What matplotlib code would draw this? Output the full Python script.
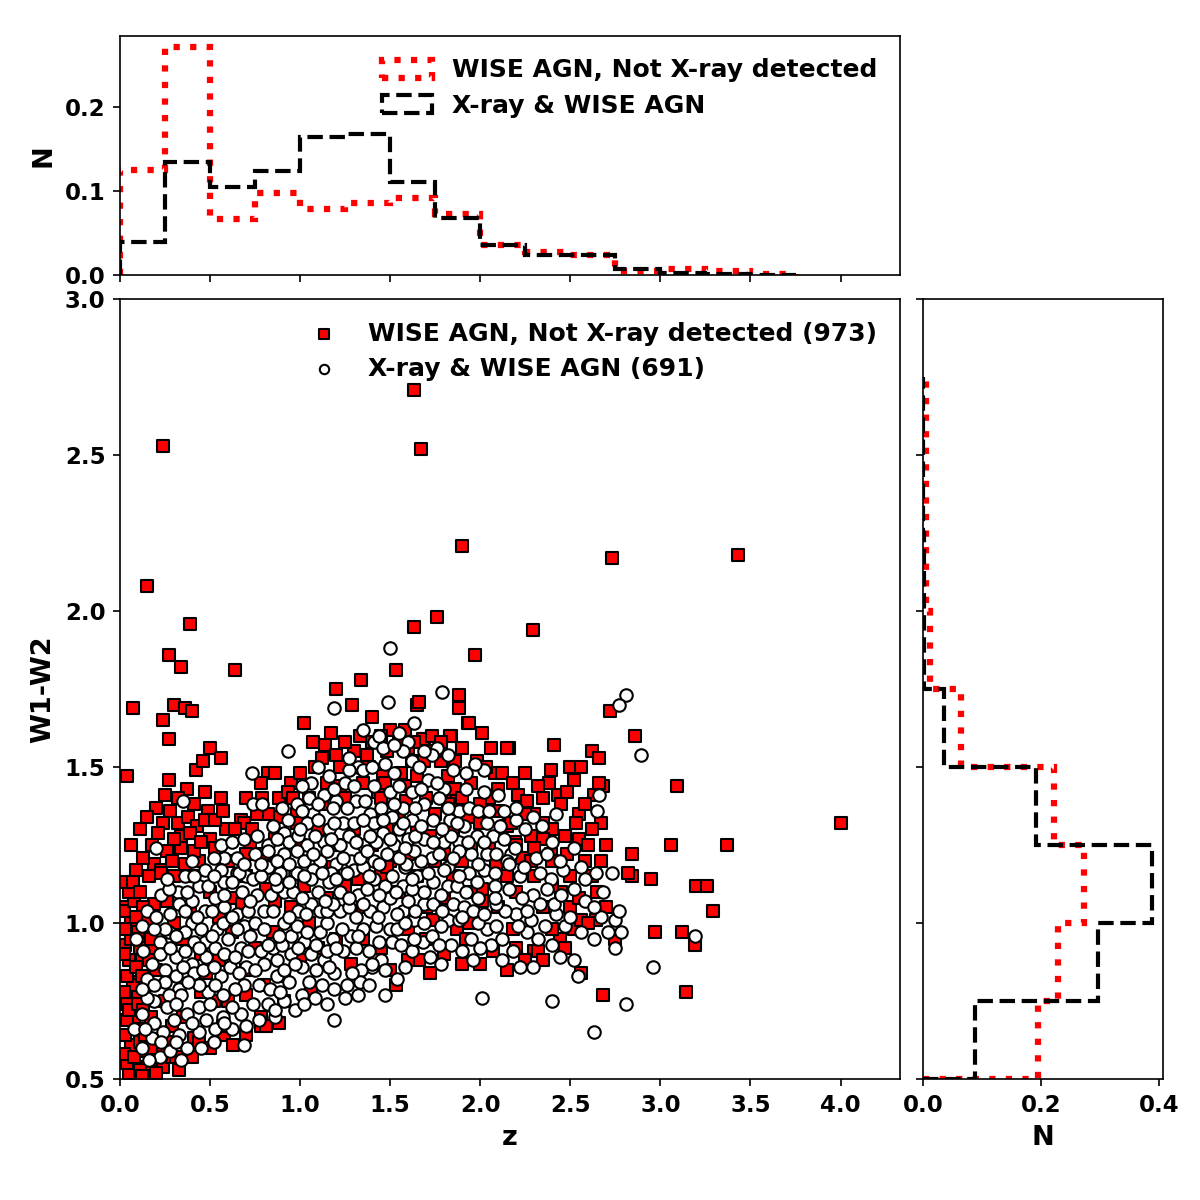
import numpy as np
import matplotlib
matplotlib.use("Agg")
import matplotlib.pyplot as plt

plt.rcParams['font.family'] = ['DejaVu Sans']
plt.rcParams['font.weight'] = 'bold'
plt.rcParams['axes.labelweight'] = 'bold'

# ---------------- data ----------------
# WISE AGN, not X-ray detected (red squares): (z, W1-W2)
red_pts = [
    (1.63,2.71),(0.24,2.53),(1.67,2.52),(1.90,2.21),(2.73,2.17),(3.43,2.18),(0.15,2.08),(1.63,1.95),
    (1.76,1.98),(2.29,1.94),(0.39,1.96),(0.27,1.86),(0.34,1.82),(0.64,1.81),(1.97,1.86),(1.53,1.81),
    (1.34,1.78),(1.20,1.75),(1.65,1.70),(0.07,1.69),(0.30,1.70),(0.36,1.69),(0.40,1.68),(0.24,1.65),
    (0.27,1.59),(1.88,1.73),(1.88,1.69),(2.72,1.68),(2.86,1.60),(2.41,1.57),(2.62,1.55),(2.16,1.56),
    (1.93,1.64),(2.01,1.61),(4.00,1.32),(3.09,1.44),(3.37,1.25),(3.06,1.25),(3.20,1.12),(3.26,1.12),
    (3.29,1.04),(2.97,0.97),(3.12,0.97),(3.19,0.93),(3.14,0.78),(2.84,1.22),(2.95,1.14),(2.84,1.15),
    (2.68,1.44),(2.66,1.53),(0.04,1.47),(0.01,1.05),(2.68,0.77),(2.30,0.91),
    (0.27,1.46),(0.42,1.49),(0.46,1.52),(0.50,1.56),(0.56,1.53),(1.02,1.64),(1.17,1.61),(1.29,1.70),
    (1.07,1.58),(1.14,1.57),(1.20,1.54),(1.22,1.50),(0.82,1.48),(0.86,1.48),(0.78,1.45),(0.37,1.43),
    (0.47,1.42),(0.56,1.40),(0.20,1.37),(0.28,1.36),(0.49,1.36),(0.24,1.32),(0.32,1.32),(0.38,1.34),
    (0.43,1.31),(0.34,1.28),(0.34,1.24),(0.50,1.27),(0.59,1.30),(0.67,1.33),(0.69,1.32),(0.82,1.35),
    (0.89,1.34),(0.98,1.35),(0.98,1.32),(0.44,1.20),(0.19,1.19),(0.23,1.17),(0.09,1.17),(0.16,1.15),
    (1.40,1.66),(1.66,1.71),(1.94,1.64),(1.84,1.60),(1.69,1.59),(2.06,1.56),(2.15,1.56),(2.39,1.49),
    (2.50,1.50),(2.56,1.50),(2.52,1.46),(2.38,1.45),(2.43,1.41),(2.66,1.45),(2.63,1.41),(2.67,1.32),
    (2.08,1.48),(2.10,1.43),(2.21,1.41),(2.26,1.39),(2.16,1.32),(2.28,1.28),(2.55,1.27),(2.70,1.25),
    (2.39,1.22),(2.40,1.20),(2.67,1.20),(2.82,1.16),(2.23,1.21),(2.19,1.26),(1.82,1.42),(1.85,1.42),
    (1.68,1.59),(1.73,1.60),(1.83,1.60),(1.48,1.55),(1.62,1.52),(1.69,1.52),(1.78,1.52),(1.86,1.52),
    (1.46,1.47),(1.56,1.48),(1.65,1.47),(1.82,1.47),(1.86,1.43),(1.43,1.42),(1.59,1.39),(1.87,1.39),
    (1.93,1.34),(1.43,1.34),(1.48,1.30),(1.50,1.20),(2.00,1.32),(2.15,1.31),(2.09,1.19),(2.17,1.32),
    (1.66,0.88),(1.53,0.80),(2.07,0.91),(2.32,0.91),(2.44,0.95),(2.52,0.98),(2.56,1.01),(2.64,1.01),
    (2.56,0.84),(2.18,0.98),(1.94,1.00),(1.87,0.98),(1.92,0.95),(1.74,1.01),(2.01,1.11),(2.01,1.07),
    (2.75,0.95),
    (0.23,1.16),(0.30,1.15),(0.02,1.04),(0.15,1.01),(0.19,1.06),(0.26,1.07),(0.19,0.91),(0.14,0.95),
    (0.07,0.81),(0.10,0.78),(0.07,0.69),(0.13,0.66),(0.09,0.60),(0.09,0.54),(0.15,0.54),(0.19,0.56),
    (0.24,0.54),(0.05,0.52),(0.29,0.57),(0.29,0.67),(0.41,0.63),(0.58,0.64),(0.78,0.67),(0.91,0.75),
    (1.06,0.78),(1.28,0.87),(0.81,1.11),(0.63,1.08),(0.39,1.05),(0.48,0.84),(0.52,0.75),(0.70,0.77),
    (0.91,0.83),
    (0.04,0.55),(0.11,0.53),(0.15,0.51),(0.06,0.61),(0.12,0.59),(0.18,0.57),(0.23,0.58),(0.08,0.70),
    (0.04,0.69),(0.14,0.80),(0.07,0.80),(0.31,0.57),(0.27,0.62),(0.44,0.62),(0.57,0.67),(0.78,0.70),
    (0.81,0.67),(0.03,0.93),(0.05,0.88),(0.06,1.00),(0.08,1.07),(0.10,0.97),(0.12,0.88),(0.04,0.74),
    (0.35,0.95),(0.45,0.90),(0.55,0.88),(0.62,0.97),(0.75,0.92),(0.85,0.97),(0.95,1.05),(1.05,1.00),
    (1.15,1.08),(1.25,1.12),(1.35,1.05),(1.45,1.15),(1.55,1.10),(1.65,1.15),(1.75,1.20),(1.85,1.15),
    (1.95,1.10),(1.40,1.25),(1.30,1.30),(1.20,1.25),(1.10,1.30),(1.00,1.25),(0.90,1.20),(0.80,1.22),
    (0.70,1.15),(0.60,1.20),(0.50,1.10),(0.40,1.15),(0.30,1.00),(0.20,0.85),(0.25,0.75),(0.35,0.70),
    (0.45,0.78),(0.60,0.75),(0.70,0.85),(0.80,0.80),(1.00,0.88),(1.10,0.92),(1.20,0.95),(1.35,0.95),
    (1.45,0.92),(1.60,0.98),(1.70,1.05),(1.80,1.08),(1.90,1.20),(2.05,1.25),(2.10,1.05),(2.20,1.10),
    (2.30,1.15),(2.35,1.05),(2.45,1.10),(2.50,1.15),(1.25,1.40),(1.35,1.45),(1.45,1.40),(1.55,1.35),
    (1.65,1.30),(1.75,1.35),(1.85,1.30),(1.15,1.45),(1.05,1.40),(0.95,1.45),(1.30,1.55),(1.40,1.58),
    (1.50,1.62),(1.60,1.56),(1.75,1.55),(1.95,1.45),(2.05,1.40),(2.25,1.48),(2.30,1.35),(2.40,1.30),
    (2.45,1.38),(2.55,1.35),(2.60,1.25),(2.65,1.10),(2.50,1.05),(2.40,0.98),(2.20,0.92),(1.80,0.90),
    (1.70,0.95),(1.50,0.85),(1.60,0.88),
    (0.02,0.58),(0.03,0.64),(0.05,0.72),(0.02,0.78),(0.04,0.83),(0.02,0.90),(0.06,0.95),(0.03,0.98),
    (0.05,1.10),(0.02,1.13),(0.07,1.13),(0.11,1.10),(0.13,1.05),(0.09,1.02),(0.11,0.92),(0.09,0.86),
    (0.12,0.83),(0.10,0.74),(0.13,0.72),(0.11,0.62),(0.14,0.64),(0.08,0.57),(0.17,0.60),(0.12,0.51),
    (0.20,0.52),(0.17,0.70),(0.16,0.88),(0.17,0.95),(0.13,1.21),(0.06,1.25),(0.11,1.30),(0.18,1.25),
    (0.15,1.34),(0.21,1.29),(0.26,1.23),(0.30,1.27),(0.29,1.20),(0.36,1.19),(0.41,1.23),(0.39,1.29),
    (0.45,1.26),(0.47,1.33),(0.53,1.33),(0.53,1.24),(0.57,1.36),(0.64,1.30),(0.70,1.40),(0.73,1.30),
    (0.76,1.35),(0.79,1.40),(0.72,1.25),(0.32,1.40),(0.41,1.38),(0.25,1.41),
    (0.88,1.40),(0.93,1.42),(1.00,1.48),(1.08,1.50),(1.12,1.53),(1.25,1.58),(1.33,1.60),(1.37,1.54),
    (1.45,1.60),(1.55,1.58),(1.58,1.62),(1.63,1.58),(1.78,1.58),(1.90,1.56),(1.98,1.52),(2.03,1.50),
    (2.12,1.48),(2.18,1.45),(2.32,1.44),(2.35,1.40),(2.48,1.42),(2.58,1.38),(2.62,1.30),(2.53,1.32),
    (2.47,1.28),(2.35,1.27),(2.30,1.24),(2.48,1.22),(2.58,1.20),(2.62,1.15),(2.70,1.05),(2.60,1.00),
    (2.47,0.92),(2.35,0.88),(2.25,0.88),(2.15,0.85),(2.00,0.87),(1.90,0.87),(1.72,0.84),
    (0.88,0.68),(0.70,0.64),(0.63,0.61),(0.50,0.60),(0.40,0.57),(0.33,0.53),
    (0.55,1.02),(0.68,1.06),(0.86,1.07),(1.02,1.12),(1.18,1.18),(1.32,1.14),(1.48,1.18),(1.60,1.22),
    (1.72,1.28),(1.82,1.38),(1.70,1.40),(1.58,1.44),(1.47,1.45),(1.38,1.50),(1.22,1.44),(1.12,1.38),
    (0.96,1.40),(0.86,1.27),(0.70,1.22),(1.90,1.40),(2.00,1.38),(2.10,1.36),(2.25,1.35),(2.35,1.32),
    (2.20,1.25),(2.28,1.20),(2.15,1.15),(2.40,1.12),(2.55,1.08),(1.95,1.25),(1.80,1.22),
]

# X-ray & WISE AGN (white circles): (z, W1-W2)
white_pts = [
    (1.50,1.88),(1.79,1.74),(2.81,1.73),(2.77,1.70),(2.89,1.54),(1.49,1.71),(1.19,1.69),(0.93,1.55),
    (0.73,1.48),(0.35,1.39),(0.74,1.38),(0.79,1.38),(0.20,1.24),(0.56,1.25),(0.76,1.28),(0.82,1.25),
    (0.91,1.29),(0.94,1.26),(1.06,1.45),(1.16,1.47),(1.25,1.45),(1.35,1.62),(1.41,1.58),(1.32,1.50),
    (1.35,1.49),(1.05,1.40),(1.13,1.41),(1.20,1.39),(1.31,1.39),(1.39,1.35),(0.98,1.38),(1.07,1.35),
    (1.18,1.37),(1.04,1.32),(1.16,1.30),(1.24,1.32),(1.30,1.32),(1.04,1.25),(1.13,1.26),(1.22,1.25),
    (1.35,1.25),(0.65,1.21),(0.75,1.22),(0.82,1.23),(0.91,1.22),(0.98,1.23),(1.02,1.20),(1.11,1.20),
    (1.20,1.19),(1.28,1.20),(1.41,1.20),(0.36,1.15),(0.47,1.17),(0.58,1.21),(0.56,1.17),(0.65,1.16),
    (0.70,1.15),(0.82,1.18),(0.89,1.16),(0.97,1.16),(1.07,1.17),(1.17,1.16),(1.30,1.17),
    (1.63,1.64),(1.55,1.61),(1.60,1.58),(1.46,1.56),(1.76,1.56),(1.82,1.54),(2.02,1.49),(1.92,1.48),
    (2.10,1.41),(2.13,1.36),(2.42,1.35),(2.66,1.41),(2.65,1.36),(2.25,1.30),(2.34,1.31),(2.52,1.24),
    (2.31,1.21),(2.17,1.22),
    (1.57,1.55),(1.62,1.52),(1.73,1.54),(1.47,1.51),(1.71,1.46),(1.50,1.42),(1.62,1.42),(1.80,1.43),
    (1.69,1.38),(1.77,1.40),(1.88,1.36),(1.94,1.37),(1.99,1.36),(1.45,1.37),(1.57,1.37),(1.51,1.34),
    (1.62,1.33),(1.74,1.33),(1.83,1.33),(1.91,1.31),(1.98,1.28),(2.07,1.28),(1.41,1.32),(1.46,1.29),
    (1.55,1.30),(1.69,1.27),(1.80,1.26),(1.88,1.26),(1.95,1.22),(2.04,1.22),(1.42,1.26),(1.52,1.25),
    (1.60,1.27),(1.73,1.21),(1.82,1.18),(1.88,1.23),(1.44,1.19),(1.58,1.18),(1.67,1.20),(2.02,1.17),
    (2.15,1.20),
    (1.47,0.77),(2.01,0.76),(2.40,0.75),(2.81,0.74),(2.63,0.65),(2.54,0.83),(2.52,0.88),(2.44,0.89),
    (2.29,0.86),(2.12,0.88),(2.04,0.98),(2.26,0.97),(2.32,0.95),(2.36,0.99),(2.63,0.95),(2.75,0.92),
    (2.71,0.97),(2.78,0.97),(2.75,1.01),(2.77,1.04),(2.67,1.02),(2.58,1.07),(2.42,1.03),(2.41,1.06),
    (2.20,1.03),(2.14,1.04),(2.29,1.09),(2.39,1.14),(2.46,1.17),(2.56,1.18),(2.64,1.16),(2.73,1.16),
    (2.16,1.11),(2.08,1.12),(2.37,1.11),(1.68,0.94),(1.73,0.96),(1.82,1.01),(1.69,1.06),(1.57,1.04),
    (1.51,0.94),(1.44,0.94),(1.45,0.88),(1.40,0.86),(1.50,0.98),(1.63,1.01),(1.54,0.98),(1.85,1.06),
    (1.91,1.05),(1.96,1.04),(1.82,1.12),(1.87,1.12),(1.74,1.13),(1.65,1.15),(1.57,1.12),(1.47,1.12),
    (1.46,1.05),(1.80,1.17),(1.94,1.16),(2.16,1.19),(1.59,1.19),(1.69,1.10),(1.50,1.08),(1.60,1.07),
    (1.74,1.06),(3.19,0.96),(2.96,0.86),
    (0.58,1.13),(0.66,1.16),(0.74,1.14),(0.82,1.18),(0.91,1.10),(0.98,1.16),(1.06,1.14),(1.16,1.13),
    (1.22,1.10),(1.32,1.09),(1.35,1.18),(1.41,1.14),(0.32,1.10),(0.33,1.06),(0.40,1.07),(0.44,1.12),
    (0.53,1.08),(0.65,1.03),(0.69,0.99),(0.76,1.09),(0.80,1.04),(0.75,1.00),(0.85,1.04),(0.91,1.00),
    (0.99,1.04),(1.06,1.06),(1.11,1.04),(1.22,1.04),(1.31,1.02),(1.39,1.04),(1.35,0.98),(1.28,0.96),
    (1.18,0.95),(1.11,0.97),(1.02,0.94),(0.95,0.96),(0.85,0.92),(0.78,0.91),(0.72,0.96),(0.67,0.92),
    (0.60,0.95),(0.54,0.98),(0.47,1.04),(0.40,1.00),(0.36,0.97),(0.27,0.97),(0.22,0.94),(0.09,0.95),
    (0.15,1.04),(0.25,0.98),(0.47,0.94),(0.41,0.94),(0.48,0.89),(0.40,0.87),(0.31,0.89),(0.22,0.90),
    (0.18,0.87),(0.15,0.82),(0.25,0.85),(0.31,0.83),(0.41,0.84),(0.46,0.85),(0.56,0.83),(0.61,0.86),
    (0.70,0.86),(0.80,0.87),(0.87,0.88),(0.95,0.90),(1.06,0.90),(1.13,0.88),(1.19,0.84),(1.26,0.80),
    (1.34,0.85),(1.40,0.87),(1.24,0.91),(1.09,0.85),(1.01,0.86),(0.94,0.81),(0.87,0.83),(0.77,0.80),
    (0.69,0.80),(0.64,0.79),(0.57,0.77),(0.49,0.78),(0.44,0.80),(0.33,0.79),(0.25,0.81),(0.19,0.80),
    (0.12,0.71),(0.19,0.75),(0.27,0.77),(0.34,0.77),(0.44,0.73),(0.50,0.74),(0.57,0.70),(0.67,0.71),
    (0.74,0.74),(0.82,0.74),(0.91,0.75),(1.01,0.77),(1.08,0.76),(1.15,0.74),(1.19,0.69),(0.97,0.72),
    (0.30,0.69),(0.37,0.71),(0.18,0.63),(0.24,0.65),(0.33,0.64),(0.44,0.65),(0.37,0.60),(0.23,0.62),
    (0.22,0.57),(0.34,0.56),(0.53,0.66),(0.62,0.66),(0.69,0.61),(0.19,0.68),(0.12,0.60),(0.08,0.66),
    (0.16,0.56),
    (0.28,0.59),(0.45,0.60),(0.52,0.62),(0.31,0.62),
    (0.40,0.68),(0.48,0.69),(0.70,0.67),(0.77,0.69),(0.86,0.70),(0.58,0.68),(0.14,0.66),
    (0.26,0.73),(0.31,0.74),(0.62,0.73),(0.86,0.72),(1.02,0.74),(1.25,0.76),(1.32,0.77),(0.15,0.76),
    (0.38,0.81),(0.53,0.80),(0.83,0.79),(0.89,0.78),(1.05,0.81),(1.12,0.80),(1.19,0.79),(1.33,0.81),
    (1.38,0.80),(1.54,0.82),(0.12,0.79),
    (0.35,0.86),(0.52,0.86),(0.66,0.84),(0.75,0.85),(0.91,0.85),(0.97,0.87),(1.16,0.86),(1.29,0.84),
    (1.47,0.85),(1.58,0.86),(1.62,0.91),(1.72,0.89),(1.78,0.87),(1.84,0.93),(1.90,0.91),(1.96,0.88),
    (2.06,0.93),(2.18,0.91),(2.22,0.86),
    (0.13,0.91),(0.28,0.92),(0.36,0.91),(0.44,0.92),(0.53,0.92),(0.58,0.90),(0.64,0.89),(0.71,0.91),
    (0.82,0.93),(0.90,0.93),(0.99,0.92),(1.09,0.93),(1.15,0.91),(1.20,0.92),(1.31,0.92),(1.38,0.91),
    (1.56,0.93),(1.63,0.95),(1.77,0.93),(1.95,0.95),(2.00,0.92),(2.12,0.95),(2.40,0.93),
    (0.12,0.99),(0.19,0.98),(0.31,0.96),(0.45,0.98),(0.51,0.96),(0.57,1.00),(0.65,0.98),(0.80,0.98),
    (0.88,0.96),(0.98,0.99),(1.04,0.97),(1.15,1.00),(1.23,0.98),(1.32,0.96),(1.42,0.99),(1.58,1.00),
    (1.69,1.00),(1.78,0.99),(1.88,1.01),(1.99,1.00),(2.09,0.99),(2.21,0.99),(2.28,1.01),(2.47,0.99),
    (2.56,0.97),
    (0.20,1.02),(0.28,1.03),(0.36,1.04),(0.43,1.02),(0.51,1.04),(0.58,1.05),(0.62,1.02),(0.71,1.04),
    (0.94,1.02),(1.03,1.03),(1.15,1.04),(1.18,1.06),(1.27,1.05),(1.35,1.06),(1.43,1.02),(1.54,1.03),
    (1.64,1.04),(1.79,1.04),(1.90,1.02),(2.02,1.03),(2.09,1.06),(2.26,1.04),(2.33,1.06),(2.50,1.02),
    (2.63,1.05),
    (0.23,1.09),(0.27,1.11),(0.37,1.10),(0.49,1.12),(0.58,1.09),(0.68,1.10),(0.72,1.07),(0.84,1.09),
    (0.87,1.12),(0.96,1.10),(1.01,1.08),(1.10,1.10),(1.14,1.07),(1.27,1.08),(1.37,1.11),(1.44,1.09),
    (1.53,1.10),(1.62,1.11),(1.78,1.09),(1.92,1.10),(1.99,1.08),(2.23,1.08),(2.45,1.09),(2.52,1.11),
    (2.68,1.10),(2.08,1.08),
    (0.26,1.14),(0.41,1.15),(0.52,1.15),(0.62,1.13),(0.78,1.15),(0.86,1.14),(0.94,1.13),(1.02,1.15),
    (1.12,1.16),(1.20,1.14),(1.26,1.16),(1.38,1.15),(1.51,1.15),(1.62,1.14),(1.71,1.16),(1.88,1.15),
    (1.98,1.13),(2.08,1.16),(2.22,1.15),(2.33,1.16),(2.58,1.14),
    (0.40,1.20),(0.52,1.21),(0.69,1.19),(0.78,1.19),(0.87,1.20),(0.94,1.19),(1.07,1.22),(1.15,1.23),
    (1.24,1.21),(1.33,1.21),(1.37,1.23),(1.48,1.22),(1.55,1.21),(1.63,1.23),(1.77,1.22),(1.85,1.21),
    (1.99,1.19),(2.09,1.22),(2.24,1.18),(2.37,1.22),(2.44,1.20),
    (0.62,1.26),(0.69,1.27),(0.87,1.27),(0.99,1.28),(1.08,1.28),(1.17,1.27),(1.27,1.28),(1.31,1.26),
    (1.39,1.28),(1.50,1.27),(1.58,1.24),(1.64,1.28),(1.74,1.26),(1.84,1.28),(1.93,1.26),(2.02,1.26),
    (2.13,1.27),(2.19,1.24),(2.40,1.26),
    (0.85,1.31),(0.93,1.33),(1.00,1.30),(1.10,1.33),(1.19,1.32),(1.35,1.33),(1.46,1.33),(1.57,1.32),
    (1.67,1.31),(1.79,1.30),(1.87,1.32),(2.04,1.32),(2.11,1.31),(2.20,1.33),(2.29,1.34),
    (0.90,1.37),(1.01,1.36),(1.10,1.38),(1.26,1.37),(1.36,1.39),(1.52,1.38),(1.64,1.37),(1.82,1.37),
    (2.05,1.36),(2.20,1.37),
    (1.01,1.44),(1.19,1.43),(1.30,1.44),(1.41,1.44),(1.55,1.44),(1.67,1.43),(1.76,1.45),(1.92,1.43),
    (2.02,1.42),
    (1.10,1.50),(1.27,1.49),(1.40,1.50),(1.52,1.48),(1.66,1.50),(1.85,1.49),(1.97,1.51),
    (1.44,1.60),(1.52,1.57),(1.69,1.55),(1.27,1.53),
]

red_z = [p[0] for p in red_pts]
red_w = [p[1] for p in red_pts]
white_z = [p[0] for p in white_pts]
white_w = [p[1] for p in white_pts]

red_label = 'WISE AGN, Not X-ray detected (973)'
white_label = 'X-ray & WISE AGN (691)'
red_hist_label = 'WISE AGN, Not X-ray detected'
white_hist_label = 'X-ray & WISE AGN'

# normalised histograms (fraction per bin)
z_edges = [0.0, 0.25, 0.5, 0.75, 1.0, 1.25, 1.5, 1.75, 2.0, 2.25, 2.5, 2.75, 3.0, 3.25, 3.5, 3.75]
red_z_frac = [0.125, 0.271, 0.067, 0.097, 0.078, 0.086, 0.092, 0.073, 0.036, 0.027, 0.023, 0.005, 0.007, 0.004, 0.001]
black_z_frac = [0.039, 0.134, 0.105, 0.124, 0.164, 0.168, 0.110, 0.068, 0.036, 0.024, 0.023, 0.007, 0.002, 0.0005, 0.0]

w_edges = [0.5, 0.75, 1.0, 1.25, 1.5, 1.75, 2.0, 2.25, 2.5, 2.75]
red_w_frac = [0.194, 0.228, 0.272, 0.222, 0.064, 0.011, 0.0045, 0.0056, 0.0056]
black_w_frac = [0.088, 0.296, 0.387, 0.192, 0.0355, 0.002, 0.001, 0.0, 0.0]

# ---------------- figure ----------------
fig = plt.figure(figsize=(8, 8), dpi=150)
ax = fig.add_axes([0.1, 0.1008, 0.65, 0.65])
axt = fig.add_axes([0.1, 0.771, 0.65, 0.199], sharex=ax)
axr = fig.add_axes([0.7692, 0.1008, 0.2, 0.65], sharey=ax)

ax.scatter(red_z, red_w, marker='s', s=38, c='red', edgecolors='black', linewidths=1.0,
           label=red_label, zorder=2)
ax.scatter(white_z, white_w, marker='o', s=36, c='white', edgecolors='black', linewidths=1.0,
           label=white_label, zorder=3)
ax.set_xticks(np.arange(0, 4.01, 0.5))
ax.set_yticks(np.arange(0.5, 3.01, 0.5))
ax.set_xlabel('z', fontsize=13)
ax.set_ylabel('W1-W2', fontsize=13)
ax.tick_params(labelsize=11)
ax.legend(loc='upper right', frameon=False, fontsize=12, markerscale=0.75, labelspacing=0.45)

def centers(e):
    return [(a + b) / 2 for a, b in zip(e[:-1], e[1:])]

zc = centers(z_edges)
axt.hist(zc, bins=z_edges, weights=red_z_frac, histtype='step', color='red', ls=':', lw=3,
         label=red_hist_label)
axt.hist(zc, bins=z_edges, weights=black_z_frac, histtype='step', color='black', ls='--', lw=2,
         label=white_hist_label)
axt.set_ylabel('N', fontsize=13)
axt.set_yticks([0.0, 0.1, 0.2])
axt.tick_params(labelsize=11, labelbottom=False)
axt.legend(loc='upper right', frameon=False, fontsize=12, labelspacing=0.45)

wc = centers(w_edges)
axr.hist(wc, bins=w_edges, weights=red_w_frac, histtype='step', color='red', ls=':', lw=3,
         orientation='horizontal')
axr.hist(wc, bins=w_edges, weights=black_w_frac, histtype='step', color='black', ls='--', lw=2,
         orientation='horizontal')
axr.set_xlabel('N', fontsize=13)
axr.set_xticks([0.0, 0.2, 0.4])
axr.tick_params(labelsize=11, labelleft=False)

ax.set_xlim(0, 4.33)
ax.set_ylim(0.5, 3.0)

fig.savefig('out.png', dpi=150)
